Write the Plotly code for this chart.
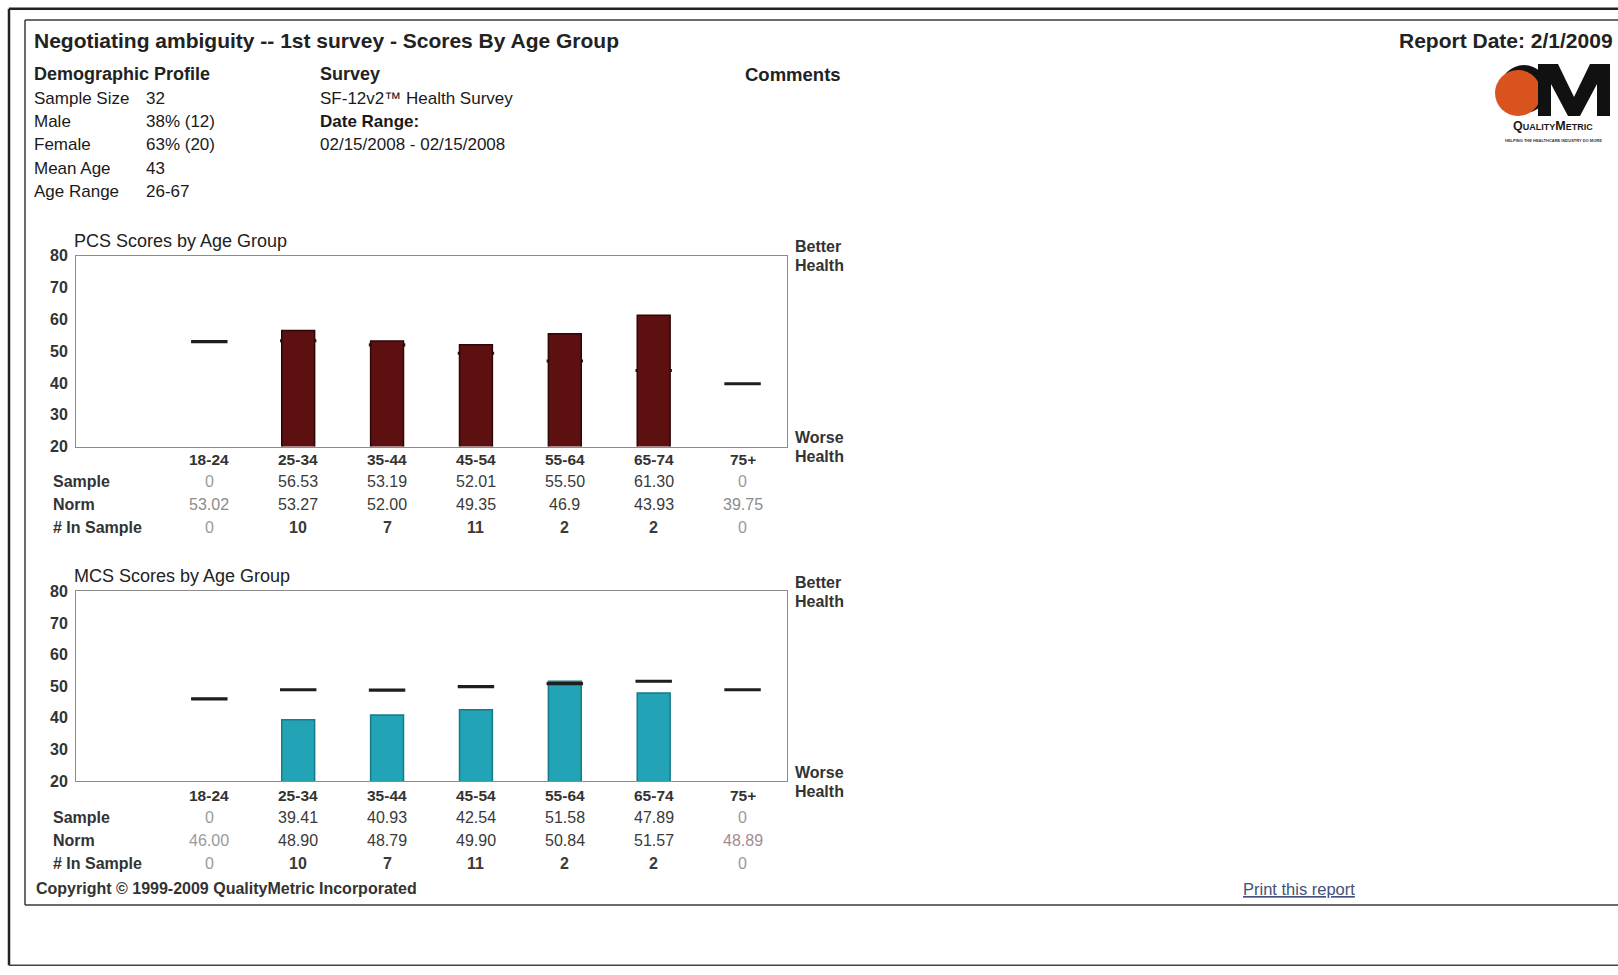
import plotly.graph_objects as go

W, H = 1618, 975
FONT = "Liberation Sans, Arial, sans-serif"

# ---------------- data ----------------
AGE_GROUPS = ["18-24", "25-34", "35-44", "45-54", "55-64", "65-74", "75+"]
PCS_SAMPLE = [0, 56.53, 53.19, 52.01, 55.50, 61.30, 0]
PCS_NORM = [53.02, 53.27, 52.00, 49.35, 46.9, 43.93, 39.75]
MCS_SAMPLE = [0, 39.41, 40.93, 42.54, 51.58, 47.89, 0]
MCS_NORM = [46.00, 48.90, 48.79, 49.90, 50.84, 51.57, 48.89]
N_IN_SAMPLE = [0, 10, 7, 11, 2, 2, 0]
Y_TICKS = [20, 30, 40, 50, 60, 70, 80]
PCS_NORM_TEXT = ["53.02", "53.27", "52.00", "49.35", "46.9", "43.93", "39.75"]
MCS_NORM_TEXT = ["46.00", "48.90", "48.79", "49.90", "50.84", "51.57", "48.89"]

DEMO_LABELS = ["Sample Size", "Male", "Female", "Mean Age", "Age Range"]
DEMO_VALUES = ["32", "38% (12)", "63% (20)", "43", "26-67"]
SURVEY_LINES = [("SF-12v2\u2122 Health Survey", False), ("Date Range:", True),
                ("02/15/2008 - 02/15/2008", False)]

NORM_MARK_H = 1.0   # thickness of the norm dash in score units

# the page photo is 8 px of page margin above and below the 975 px figure, fitted into 975 px
SCALE_Y = H / (H + 16)
OFF_Y = 8 * SCALE_Y


def fx(px):
    return px / W


def fy(py):
    s = (py - OFF_Y) / SCALE_Y
    s = min(max(s, 0.8), H - 0.8)
    return 1 - s / H


anns = []


def txt(x, y, s, size=16, bold=False, color="#333333", anchor="left", xref="paper",
        family=FONT, variant="normal"):
    anns.append(dict(
        x=fx(x) if xref == "paper" else x, y=fy(y), xref=xref, yref="paper",
        text=s, showarrow=False, xanchor=anchor, yanchor="middle",
        font=dict(family=family, size=size, color=color, weight="bold" if bold else "normal",
                  variant=variant),
    ))


fig = go.Figure()

# ---------------- PCS chart ----------------
fig.add_trace(go.Bar(
    x=AGE_GROUPS, y=[NORM_MARK_H] * len(PCS_NORM), base=[v - NORM_MARK_H / 2 for v in PCS_NORM],
    width=0.41, marker=dict(color="#1e1e1e", line=dict(width=0)), xaxis="x", yaxis="y",
    hoverinfo="skip"))
fig.add_trace(go.Bar(
    x=AGE_GROUPS, y=PCS_SAMPLE, width=0.37,
    marker=dict(color="#5c1010", line=dict(color="#2e0606", width=1.5)),
    xaxis="x", yaxis="y"))

# ---------------- MCS chart ----------------
fig.add_trace(go.Bar(
    x=AGE_GROUPS, y=MCS_SAMPLE, width=0.37,
    marker=dict(color="#22a3b6", line=dict(color="#167a88", width=1.5)),
    xaxis="x2", yaxis="y2"))
fig.add_trace(go.Bar(
    x=AGE_GROUPS, y=[NORM_MARK_H] * len(MCS_NORM), base=[v - NORM_MARK_H / 2 for v in MCS_NORM],
    width=0.41, marker=dict(color="#1e1e1e", line=dict(width=0)), xaxis="x2", yaxis="y2",
    hoverinfo="skip"))

axis_common = dict(showgrid=False, zeroline=False, showline=True, mirror=True,
                   linecolor="#8c8c8c", linewidth=1, fixedrange=True)
xdom = [fx(76), fx(787)]
x_common = dict(axis_common, type="category", range=[-1.5, 6.5], showticklabels=False,
                categoryorder="array", categoryarray=AGE_GROUPS, domain=xdom)
y_common = dict(axis_common, range=[20, 80], tickvals=Y_TICKS, ticks="",
                tickfont=dict(family=FONT, size=16, color="#333333", weight="bold"),
                ticklabelstandoff=4)

fig.update_layout(
    width=W, height=H, margin=dict(l=0, r=0, t=0, b=0),
    paper_bgcolor="white", plot_bgcolor="white", showlegend=False, barmode="overlay",
    xaxis=dict(x_common, anchor="y"),
    yaxis=dict(y_common, domain=[fy(447), fy(256)], anchor="x"),
    xaxis2=dict(x_common, anchor="y2"),
    yaxis2=dict(y_common, domain=[fy(782), fy(592)], anchor="x2"),
)

# ---------------- header text ----------------
txt(32, 40, "Negotiating ambiguity -- 1st survey - Scores By Age Group", size=21, bold=True, color="#222222")
txt(1615, 40, "Report Date: 2/1/2009", size=21, bold=True, color="#222222", anchor="right")

txt(32, 74, "Demographic Profile", size=18, bold=True, color="#222222")
for i, (lab, val) in enumerate(zip(DEMO_LABELS, DEMO_VALUES)):
    y = 98 + i * 23.5
    txt(32, y, lab, size=17, color="#1a1a1a")
    txt(144, y, val, size=17, color="#1a1a1a")

txt(318, 74, "Survey", size=18, bold=True, color="#222222")
for i, (s, b) in enumerate(SURVEY_LINES):
    txt(318, 98 + i * 23.5, s, size=17, bold=b, color="#1a1a1a")
txt(743, 74, "Comments", size=18.5, bold=True, color="#222222")


# ---------------- chart text ----------------
def chart_text(xref, top, bottom, title, sample, norm_text, norm_colors, extra=0.0):
    txt(72, top - 15, title, size=18, color="#222222")
    txt(793, top - 9, "Better", size=16, bold=True, color="#333333")
    txt(793, top + 10, "Health", size=16, bold=True, color="#333333")
    txt(793, bottom - 9, "Worse", size=16, bold=True, color="#333333")
    txt(793, bottom + 10, "Health", size=16, bold=True, color="#333333")
    row_y = [bottom + 13 + extra, bottom + 35 + extra, bottom + 58 + extra, bottom + 81 + extra]
    txt(51, row_y[1], "Sample", size=16, bold=True, color="#333333")
    txt(51, row_y[2], "Norm", size=16, bold=True, color="#333333")
    txt(51, row_y[3], "# In Sample", size=16, bold=True, color="#333333")
    for i, g in enumerate(AGE_GROUPS):
        txt(g, row_y[0], g, size=15.5, bold=True, color="#333333", anchor="center", xref=xref)
        empty = N_IN_SAMPLE[i] == 0
        s = "0" if sample[i] == 0 else f"{sample[i]:.2f}"
        txt(g, row_y[1], s, size=16, color="#9a9a9a" if empty else "#3a3a3a", anchor="center", xref=xref)
        txt(g, row_y[2], norm_text[i], size=16, color=norm_colors[i], anchor="center", xref=xref)
        txt(g, row_y[3], str(N_IN_SAMPLE[i]), size=16, bold=not empty,
            color="#9a9a9a" if empty else "#3a3a3a", anchor="center", xref=xref)


pcs_norm_colors = ["#8c8c8c" if n == 0 else "#3a3a3a" for n in N_IN_SAMPLE]
mcs_norm_colors = ["#9a9a9a", "#3a3a3a", "#3a3a3a", "#3a3a3a", "#3a3a3a", "#3a3a3a", "#a38a90"]
chart_text("x", 256, 447, "PCS Scores by Age Group", PCS_SAMPLE, PCS_NORM_TEXT, pcs_norm_colors)
chart_text("x2", 592, 782, "MCS Scores by Age Group", MCS_SAMPLE, MCS_NORM_TEXT, mcs_norm_colors, extra=1.5)

txt(34, 890, "Copyright \u00a9 1999-2009 QualityMetric Incorporated", size=16, bold=True, color="#333333")
txt(1299, 890, "<u>Print this report</u>", size=16.5, color="#44507c", anchor="center")

# ---------------- logo ----------------
txt(1553, 126, "QualityMetric", size=12.5, bold=True, color="#1a1a1a", anchor="center",
    variant="small-caps")
txt(1553, 141, "HELPING THE HEALTHCARE INDUSTRY DO MORE", size=4, bold=True, color="#333333", anchor="center")

shapes = []


def line(x0, y0, x1, y1, color, width):
    shapes.append(dict(type="line", xref="paper", yref="paper", x0=fx(x0), y0=fy(y0),
                       x1=fx(x1), y1=fy(y1), line=dict(color=color, width=width)))


def poly(points, color):
    d = "M " + " L ".join(f"{fx(px):.5f},{fy(py):.5f}" for px, py in points) + " Z"
    shapes.append(dict(type="path", xref="paper", yref="paper", path=d, fillcolor=color,
                       line=dict(width=0), layer="above"))


# logo: Q (circles) and M (polygon)
shapes.append(dict(type="circle", xref="paper", yref="paper", x0=fx(1500), x1=fx(1548),
                   y0=fy(113), y1=fy(65), fillcolor="#111111", line=dict(width=0), layer="above"))
shapes.append(dict(type="circle", xref="paper", yref="paper", x0=fx(1495), x1=fx(1541),
                   y0=fy(116), y1=fy(70), fillcolor="#d9531f", line=dict(width=0), layer="above"))
poly([(1538, 116), (1538, 64), (1558, 64), (1574, 97), (1590, 64), (1610, 64), (1610, 116),
      (1597, 116), (1597, 84), (1580, 116), (1568, 116), (1551, 84), (1551, 116)], "#111111")

# page frames
line(9, 5, 9, 975, "#222222", 2.5)
line(9, 5, 1618, 5, "#222222", 2.5)
line(9, 973, 1618, 973, "#444444", 1.5)
line(25, 20, 25, 906, "#3a3a3a", 1.5)
line(25, 20, 1618, 20, "#3a3a3a", 1.5)
line(25, 906, 1618, 906, "#3a3a3a", 1.5)

fig.update_layout(annotations=anns, shapes=shapes)
fig.write_html("out.html")
